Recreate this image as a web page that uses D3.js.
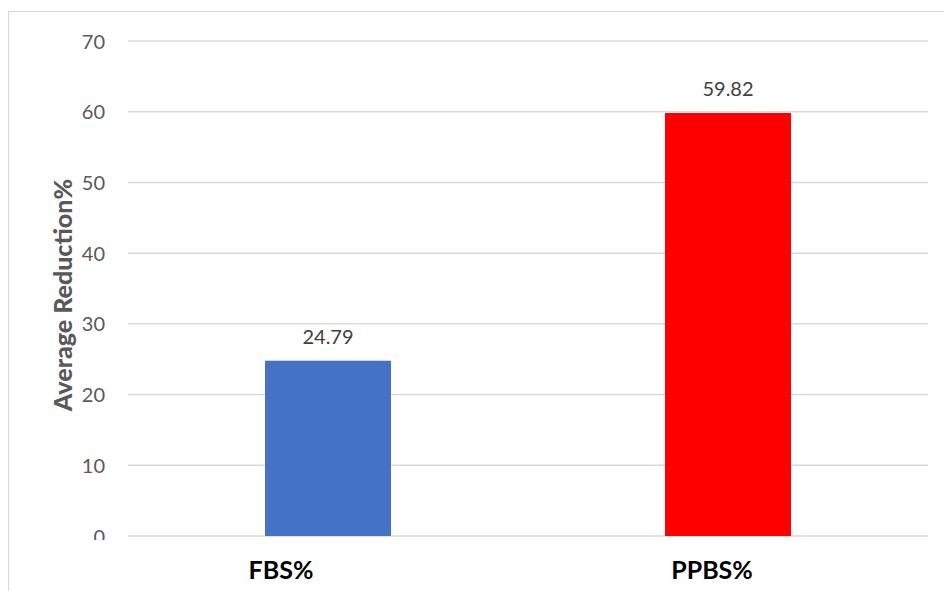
<!DOCTYPE html>
<html>
<head>
<meta charset="utf-8">
<script src="https://cdn.jsdelivr.net/npm/d3@7"></script>
<style>
  html, body { margin: 0; padding: 0; background: #fff; }
  svg { display: block; }
</style>
</head>
<body>
<svg id="chart" width="944" height="591"></svg>
<script>
// Chart data
const categories = ["FBS%", "PPBS%"];
const values = [24.79, 59.82];
const barColors = ["#4472C4", "#FF0000"];
const yTicks = [0, 10, 20, 30, 40, 50, 60, 70];
const yTitle = "Average Reduction%";

const W = 944, H = 591;
const plot = { left: 128, right: 928, top: 41, bottom: 536 };
// horizontal nudge of each category caption under its bar
const captionShift = [-47, -16];

const svg = d3.select("#chart");

// outer chart frame
svg.append("rect")
  .attr("x", 8.5).attr("y", 11.5)
  .attr("width", W).attr("height", H)
  .attr("fill", "none")
  .attr("stroke", "#d9d9d9")
  .attr("stroke-width", 1);

const x = d3.scaleBand()
  .domain(categories)
  .range([plot.left, plot.right])
  .paddingInner(0.685)
  .paddingOuter(0.3425);

const y = d3.scaleLinear()
  .domain([0, 70])
  .range([plot.bottom, plot.top]);

// gridlines
svg.append("g")
  .selectAll("line")
  .data(yTicks)
  .join("line")
  .attr("x1", plot.left).attr("x2", plot.right)
  .attr("y1", d => y(d)).attr("y2", d => y(d))
  .attr("stroke", "#d9d9d9")
  .attr("stroke-width", 1.5);

// y axis labels (the bottom edge trims the lowest label)
svg.append("defs").append("clipPath").attr("id", "axisClip")
  .append("rect").attr("x", -200).attr("y", 0).attr("width", 400).attr("height", 540);

const yAxis = d3.axisLeft(y).tickValues(yTicks).tickSize(0).tickPadding(0).tickFormat(d3.format("d"));
const gy = svg.append("g")
  .attr("transform", `translate(105,0)`)
  .attr("clip-path", "url(#axisClip)")
  .call(yAxis);
gy.select(".domain").remove();
gy.selectAll("text")
  .attr("font-family", "Lato, 'Open Sans', sans-serif")
  .attr("font-size", 20)
  .attr("fill", "#595959")
  .attr("dy", "0.35em");

// bars
svg.append("g")
  .selectAll("rect")
  .data(categories)
  .join("rect")
  .attr("x", d => x(d))
  .attr("width", x.bandwidth())
  .attr("y", (d, i) => y(values[i]))
  .attr("height", (d, i) => y(0) - y(values[i]))
  .attr("fill", (d, i) => barColors[i]);

// value labels
svg.append("g")
  .selectAll("text")
  .data(categories)
  .join("text")
  .attr("x", d => x(d) + x.bandwidth() / 2)
  .attr("y", (d, i) => y(values[i]) - 17)
  .attr("text-anchor", "middle")
  .attr("font-family", "Lato, 'Open Sans', sans-serif")
  .attr("font-size", 20)
  .attr("fill", "#404040")
  .text((d, i) => values[i].toFixed(2));

// category captions
svg.append("g")
  .selectAll("text")
  .data(categories)
  .join("text")
  .attr("x", (d, i) => x(d) + x.bandwidth() / 2 + captionShift[i])
  .attr("y", 579)
  .attr("text-anchor", "middle")
  .attr("font-family", "Lato, 'Open Sans', sans-serif")
  .attr("font-weight", "bold")
  .attr("font-size", 25)
  .attr("fill", "#000")
  .text(d => d);

// y axis title
svg.append("text")
  .attr("transform", `translate(72,295) rotate(-90)`)
  .attr("text-anchor", "middle")
  .attr("font-family", "Lato, 'Open Sans', sans-serif")
  .attr("font-weight", "900")
  .attr("font-size", 25)
  .attr("fill", "#595959")
  .text(yTitle);
</script>
</body>
</html>
